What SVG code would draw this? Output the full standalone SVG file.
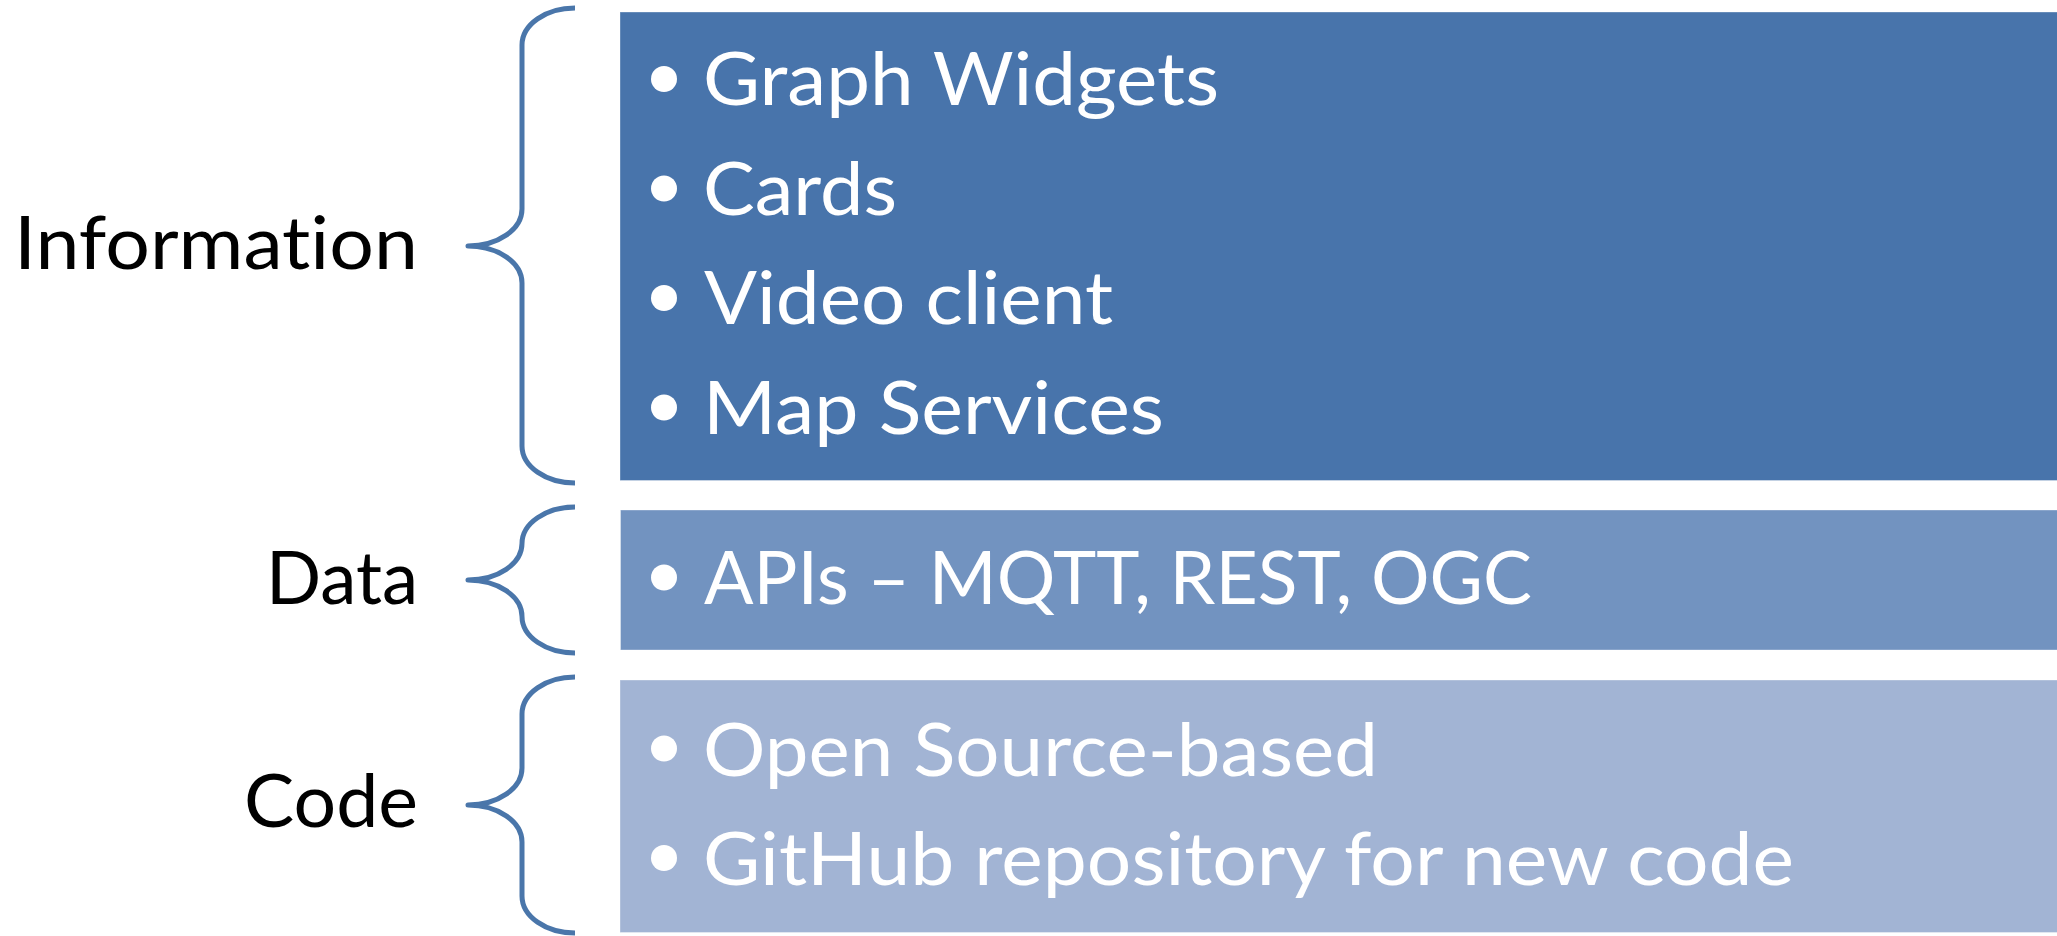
<svg xmlns="http://www.w3.org/2000/svg" width="2057" height="936" viewBox="0 0 2057 936">
  <style>
    .label { font-family: Lato, "Open Sans", "Liberation Sans", sans-serif; font-size: 74px; fill: #000; font-variant-ligatures: none; font-feature-settings: "liga" 0; }
    .item { font-family: Lato, "Open Sans", "Liberation Sans", sans-serif; font-size: 74px; fill: #fff; font-variant-ligatures: none; font-feature-settings: "liga" 0; }
    .bullet { fill: #fff; }
    .brace { fill: none; stroke: #4A76AA; stroke-width: 5; stroke-linejoin: round; stroke-linecap: butt; }
    .band { stroke: #ffffff; stroke-opacity: 0.35; stroke-width: 1; }
  </style>
  <rect width="2057" height="936" fill="#ffffff"/>

  <!-- curly braces tying each label to its band -->
  <g id="connectors">
    <path class="brace" d="M575,8 A53,37 0 0 0 522,45 L522,209 A54,37 0 0 1 468,246 A54,37 0 0 1 522,283 L522,446 A53,37 0 0 0 575,483"/>
    <path class="brace" d="M575,507 A53,36.5 0 0 0 522,543.5 A54,36.5 0 0 1 468,580 A54,36.5 0 0 1 522,616.5 A53,36.5 0 0 0 575,653"/>
    <path class="brace" d="M575,677 A53,37 0 0 0 522,714 L522,768 A54,37 0 0 1 468,805 A54,37 0 0 1 522,842 L522,896 A53,37 0 0 0 575,933"/>
  </g>

  <!-- Information layer -->
  <g id="information">
    <text class="label" x="418" y="269" text-anchor="end" textLength="404" lengthAdjust="spacingAndGlyphs">Information</text>
    <rect class="band" x="620" y="12" width="1445" height="468.5" fill="#4874AB"/>
    <circle class="bullet" cx="664" cy="79" r="13"/>
    <text class="item" x="703" y="105" textLength="516" lengthAdjust="spacingAndGlyphs">Graph Widgets</text>
    <circle class="bullet" cx="664" cy="188.5" r="13"/>
    <text class="item" x="703" y="214.5" textLength="194" lengthAdjust="spacingAndGlyphs">Cards</text>
    <circle class="bullet" cx="664" cy="298" r="13"/>
    <text class="item" x="704" y="324" textLength="409" lengthAdjust="spacingAndGlyphs">Video client</text>
    <circle class="bullet" cx="664" cy="407.5" r="13"/>
    <text class="item" x="703" y="433.5" textLength="461" lengthAdjust="spacingAndGlyphs">Map Services</text>
  </g>

  <!-- Data layer -->
  <g id="data">
    <text class="label" x="418" y="604" text-anchor="end" textLength="152" lengthAdjust="spacingAndGlyphs">Data</text>
    <rect class="band" x="620.5" y="510" width="1445" height="140" fill="#7293C0"/>
    <circle class="bullet" cx="664" cy="577.5" r="13"/>
    <text class="item" x="704" y="604" textLength="828" lengthAdjust="spacingAndGlyphs">APIs – MQTT, REST, OGC</text>
  </g>

  <!-- Code layer -->
  <g id="code">
    <text class="label" x="418" y="827" text-anchor="end" textLength="174" lengthAdjust="spacingAndGlyphs">Code</text>
    <rect class="band" x="620" y="680" width="1445" height="252.5" fill="#A2B4D4"/>
    <circle class="bullet" cx="664" cy="748.5" r="13"/>
    <text class="item" x="703" y="776" textLength="675" lengthAdjust="spacingAndGlyphs">Open Source-based</text>
    <circle class="bullet" cx="664" cy="858" r="13"/>
    <text class="item" x="703" y="884.5" textLength="1091" lengthAdjust="spacingAndGlyphs">GitHub repository for new code</text>
  </g>
</svg>
